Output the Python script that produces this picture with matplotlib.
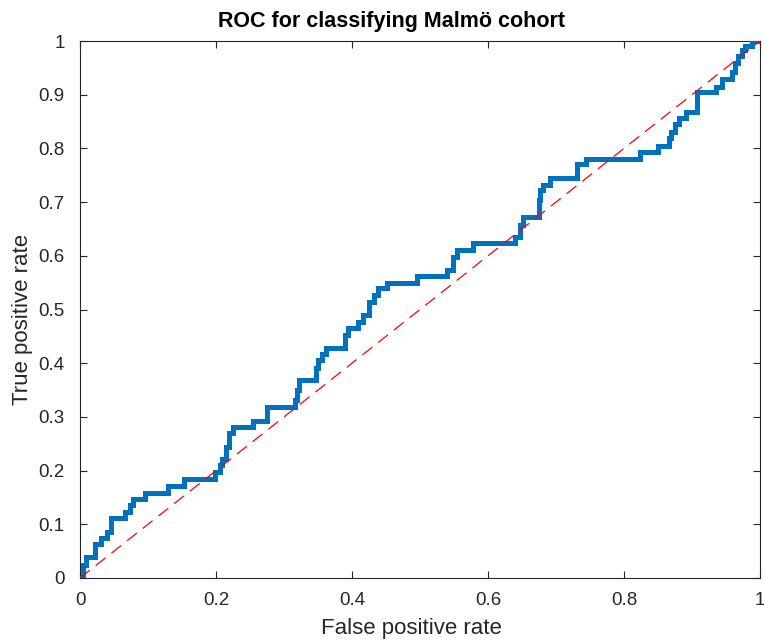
import matplotlib
matplotlib.use("Agg")
import matplotlib.pyplot as plt

# ROC operating points (false positive rate, true positive rate), step corners
fpr = [0.0, 0.0037, 0.0088, 0.0221, 0.0309, 0.0397, 0.0456, 0.0662, 0.0735, 0.0779,
       0.0956, 0.1294, 0.1529, 0.1985, 0.2059, 0.2088, 0.2147, 0.2191, 0.2250, 0.2544,
       0.2750, 0.3162, 0.3191, 0.3221, 0.3471, 0.3500, 0.3559, 0.3618, 0.3897, 0.3941,
       0.4088, 0.4162, 0.4250, 0.4324, 0.4382, 0.4515, 0.4956, 0.5397, 0.5485, 0.5544,
       0.5779, 0.6397, 0.6471, 0.6515, 0.6750, 0.6765, 0.6809, 0.6912, 0.7309, 0.7441,
       0.8235, 0.8500, 0.8662, 0.8691, 0.8750, 0.8809, 0.8912, 0.9074, 0.9353, 0.9441,
       0.9588, 0.9632, 0.9676, 0.9735, 0.9779, 0.9882, 1.0]
tpr = [0.0, 0.0242, 0.0391, 0.0633, 0.0745, 0.0857, 0.1117, 0.1229, 0.1359, 0.1471,
       0.1583, 0.1713, 0.1844, 0.1974, 0.2104, 0.2216, 0.2439, 0.2700, 0.2812, 0.2924,
       0.3184, 0.3315, 0.3501, 0.3687, 0.3911, 0.4060, 0.4171, 0.4283, 0.4525, 0.4655,
       0.4767, 0.4898, 0.5140, 0.5270, 0.5400, 0.5493, 0.5624, 0.5736, 0.5978, 0.6108,
       0.6238, 0.6350, 0.6574, 0.6723, 0.7039, 0.7225, 0.7318, 0.7449, 0.7709, 0.7803,
       0.7933, 0.8045, 0.8194, 0.8305, 0.8454, 0.8566, 0.8678, 0.9050, 0.9143, 0.9292,
       0.9423, 0.9590, 0.9721, 0.9832, 0.9907, 1.0, 1.0]

chance = [0.0, 1.0]
ticks = [0, 0.2, 0.4, 0.6, 0.8, 1]
yticks = [0, 0.1, 0.2, 0.3, 0.4, 0.5, 0.6, 0.7, 0.8, 0.9, 1]

plt.rcParams['font.family'] = ['Liberation Sans', 'DejaVu Sans']

fig = plt.figure(figsize=(7.64, 6.40), dpi=100)
ax = fig.add_axes([80 / 764, 62 / 640, 680 / 764, 537 / 640])

ax.plot(fpr, tpr, color='#0072BD', linewidth=3.6, drawstyle='steps-post',
        solid_joinstyle='miter', zorder=3)
ax.plot(chance, chance, color='red', linewidth=0.9, linestyle=(0, (10, 6)), zorder=4)

ax.set_xlim(0, 1)
ax.set_ylim(0, 1)
ax.set_xticks(ticks)
ax.set_xticklabels(['0', '0.2', '0.4', '0.6', '0.8', '1'])
ax.set_yticks(yticks)
ax.set_yticklabels(['0', '0.1', '0.2', '0.3', '0.4', '0.5', '0.6', '0.7', '0.8', '0.9', '1'])

axis_col = '#262626'
for s in ax.spines.values():
    s.set_color(axis_col)
    s.set_linewidth(0.8)
ax.tick_params(direction='in', length=5, width=0.8, colors=axis_col,
               labelsize=13.5, top=True, right=True)
ax.tick_params(axis='x', pad=10)
ax.tick_params(axis='y', pad=11)

ax.set_xlabel('False positive rate', fontsize=16, color=axis_col)
ax.xaxis.set_label_coords(0.487, -0.0935, transform=ax.transAxes)
ax.xaxis.label.set_verticalalignment('center')
ax.set_ylabel('True positive rate', fontsize=16, color=axis_col)
ax.yaxis.set_label_coords(-0.085, 0.482, transform=ax.transAxes)
ax.yaxis.label.set_verticalalignment('center')
fig.text(392 / 764, 1 - 22 / 640, 'ROC for classifying Malmö cohort', fontsize=15.5,
         fontweight='bold', color='black', ha='center', va='center')

fig.savefig('out.png', dpi=100)
